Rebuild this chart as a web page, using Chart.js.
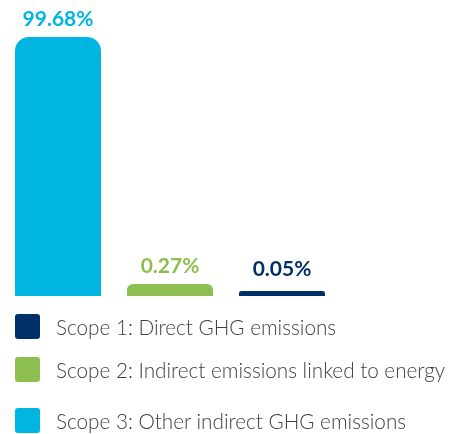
<!DOCTYPE html>
<html>
<head>
<meta charset="utf-8">
<script src="https://cdn.jsdelivr.net/npm/chart.js@4.4.1/dist/chart.umd.min.js"></script>
<style>
  html, body { margin: 0; padding: 0; background: #ffffff; }
  #wrap { position: relative; width: 450px; height: 434px; overflow: hidden; }
  #plot { position: absolute; left: 0; top: 0; width: 450px; height: 300px; }
  #legend { position: absolute; left: 0; top: 0; width: 450px; height: 434px; pointer-events: none; }
  .item { position: absolute; left: 15px; height: 25px; display: flex; align-items: center; white-space: nowrap; }
  .swatch { width: 25px; height: 25px; border-radius: 3px; flex: 0 0 25px; }
  .text { margin-left: 16px; font-family: "Lato", sans-serif; font-weight: 300; font-size: 20.7px; color: #404040; }
</style>
</head>
<body>
<div id="wrap">
  <div id="plot"><canvas id="chart"></canvas></div>
  <div id="legend"></div>
</div>
<script>
// GHG emissions share by scope (%)
const categories = ['Scope 3', 'Scope 2', 'Scope 1'];
const shares = [99.68, 0.27, 0.05];
const barColors = ['#00b5e2', '#8cbf4f', '#003067'];

const legendLabels = [
  'Scope 1: Direct GHG emissions',
  'Scope 2: Indirect emissions linked to energy',
  'Scope 3: Other indirect GHG emissions'
];
const legendColors = ['#003067', '#8cbf4f', '#00b5e2'];

// Power scale so that tiny shares stay visible next to the dominant one
const EXPONENT = 0.52;
class PowerScale extends Chart.LinearScale {
  getPixelForValue(value) {
    const e = EXPONENT;
    const lo = Math.pow(Math.max(this.min, 0), e);
    const hi = Math.pow(Math.max(this.max, 0), e);
    const v = Math.pow(Math.max(value, 0), e);
    return this.getPixelForDecimal((v - lo) / (hi - lo));
  }
  getValueForPixel(pixel) {
    const e = EXPONENT;
    const lo = Math.pow(Math.max(this.min, 0), e);
    const hi = Math.pow(Math.max(this.max, 0), e);
    const d = this.getDecimalForPixel(pixel);
    return Math.pow(lo + d * (hi - lo), 1 / e);
  }
}
PowerScale.id = 'power';
PowerScale.defaults = {};
Chart.register(PowerScale);

// Percentage labels above each bar
const valueLabels = {
  id: 'valueLabels',
  afterDatasetsDraw(chart) {
    const ctx = chart.ctx;
    const meta = chart.getDatasetMeta(0);
    ctx.save();
    ctx.font = 'bold 21px "Lato", sans-serif';
    ctx.textAlign = 'center';
    ctx.textBaseline = 'alphabetic';
    meta.data.forEach((bar, i) => {
      const y = Math.min(bar.y - 11, bar.base - 20);
      ctx.fillStyle = barColors[i];
      ctx.fillText(shares[i].toFixed(2) + '%', bar.x, y);
    });
    ctx.restore();
  }
};

new Chart(document.getElementById('chart'), {
  type: 'bar',
  data: {
    labels: categories,
    datasets: [{
      data: shares,
      backgroundColor: barColors,
      borderWidth: 0,
      borderSkipped: 'start',
      borderRadius: { topLeft: 14, topRight: 14, bottomLeft: 0, bottomRight: 0 },
      barPercentage: 0.96,
      categoryPercentage: 0.8
    }]
  },
  options: {
    responsive: true,
    maintainAspectRatio: false,
    animation: false,
    layout: { padding: { left: 2, right: 112, top: 37, bottom: 4 } },
    plugins: { legend: { display: false }, tooltip: { enabled: false } },
    scales: {
      x: { display: false, grid: { display: false } },
      y: { type: 'power', display: false, min: 0, max: 99.68, grid: { display: false } }
    }
  },
  plugins: [valueLabels]
});

// Legend rows below the bars
const rowTops = [314, 357, 408];
const legend = document.getElementById('legend');
legendLabels.forEach((label, i) => {
  const row = document.createElement('div');
  row.className = 'item';
  row.style.top = rowTops[i] + 'px';
  const sw = document.createElement('span');
  sw.className = 'swatch';
  sw.style.background = legendColors[i];
  const tx = document.createElement('span');
  tx.className = 'text';
  tx.textContent = label;
  row.appendChild(sw);
  row.appendChild(tx);
  legend.appendChild(row);
});
</script>
</body>
</html>
